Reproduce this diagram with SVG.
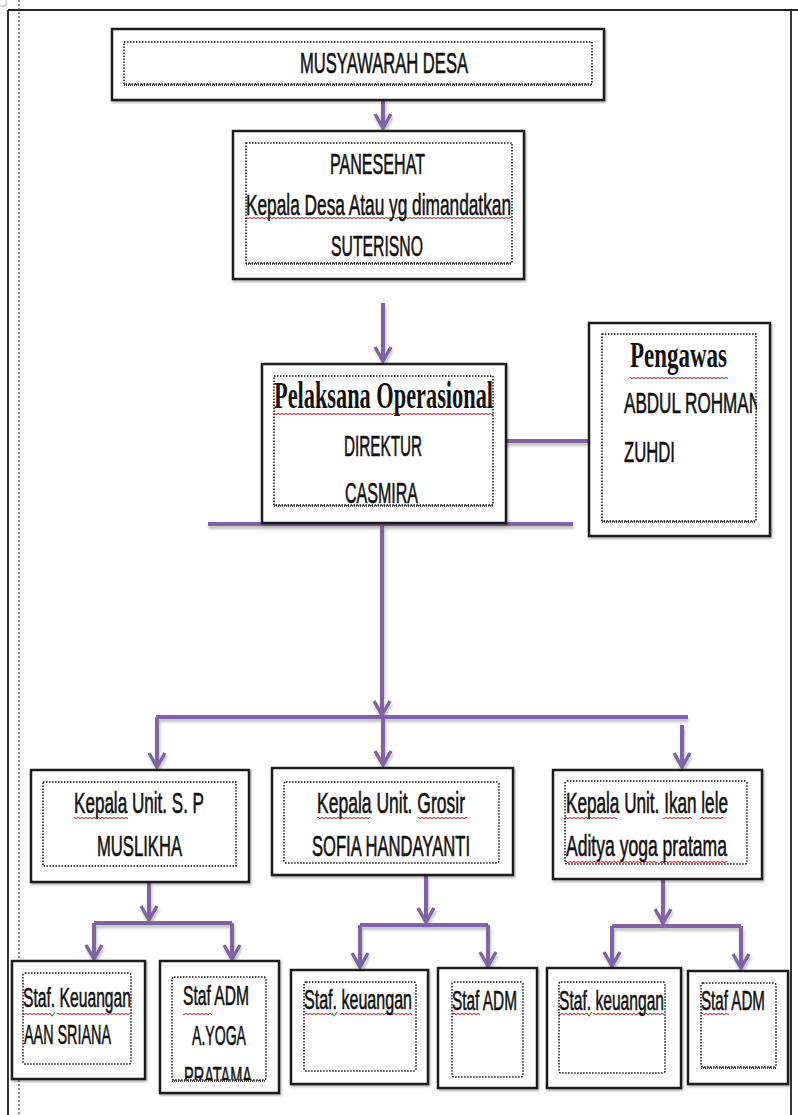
<svg xmlns="http://www.w3.org/2000/svg" width="798" height="1115" viewBox="0 0 798 1115">
<defs>
<style>
.box{fill:#fff;stroke:#1a1a1a;stroke-width:2.5}
.in{fill:none;stroke:#111;stroke-width:1.5;stroke-dasharray:1.5 1.5}
.hb{fill:none;stroke:#111;stroke-width:1.6;stroke-dasharray:1 1}
.t{font-family:"Liberation Sans",Arial,sans-serif;font-size:30px;fill:#111;stroke:#111;stroke-width:0.6}
.ts{font-size:27px}
.tb{font-family:"Liberation Serif","Times New Roman",serif;font-weight:bold;font-size:37px;fill:#111}
.c{fill:none;stroke:#8064a2;stroke-width:4}
.w{fill:url(#wavy)}
.gr{fill:none;stroke:#2e9e2e;stroke-width:1.2}
.pg{fill:none;stroke:#222;stroke-width:1.8}
</style>
<pattern id="wavy" width="4" height="4" patternUnits="userSpaceOnUse">
<path d="M0,3 L2,1 L4,3" fill="none" stroke="#e02828" stroke-width="1"/>
</pattern>
<marker id="ah" markerUnits="userSpaceOnUse" viewBox="-18 -10 20 20" refX="0" refY="0" markerWidth="20" markerHeight="20" orient="auto">
<path d="M-14,-8 L0,0 L-14,8" fill="none" stroke="#8064a2" stroke-width="3.5"/>
</marker>
<filter id="sh" x="-5%" y="-5%" width="110%" height="115%">
<feDropShadow dx="1" dy="3" stdDeviation="1.5" flood-color="#000" flood-opacity="0.25"/>
</filter>
<filter id="bs" x="-5%" y="-5%" width="110%" height="110%">
<feDropShadow dx="1" dy="1.5" stdDeviation="0.8" flood-color="#000" flood-opacity="0.35"/>
</filter>
<clipPath id="cpPr"><rect x="172" y="977" width="94" height="103"/></clipPath>
<clipPath id="cpAb"><rect x="602" y="334" width="155" height="187"/></clipPath>
</defs>
<rect width="798" height="1115" fill="#fff"/>

<g id="page">
<path class="pg" d="M8,10 H798 M8,10 V1115 M791,10 V1115"/>
<path d="M19,0 V1115" fill="none" stroke="#444" stroke-width="1.2" stroke-dasharray="2 2"/>
<path d="M0,6 H6 V0" fill="none" stroke="#aaa" stroke-width="1"/>
</g>

<g id="connectors" filter="url(#sh)">
<path class="c" d="M383,100 V128" marker-end="url(#ah)"/>
<path class="c" d="M383,303 V361" marker-end="url(#ah)"/>
<path class="c" d="M506,441 H588"/>
<path class="c" d="M208,524 H573"/>
<path class="c" d="M382,517 V715" marker-end="url(#ah)"/>
<path class="c" d="M156,717 H688"/>
<path class="c" d="M157,717 V767" marker-end="url(#ah)"/>
<path class="c" d="M383,719 V765" marker-end="url(#ah)"/>
<path class="c" d="M682,725 V767" marker-end="url(#ah)"/>
<path class="c" d="M149,882 V920" marker-end="url(#ah)"/>
<path class="c" d="M94,923 H232"/>
<path class="c" d="M94,923 V959" marker-end="url(#ah)"/>
<path class="c" d="M232,923 V959" marker-end="url(#ah)"/>
<path class="c" d="M426,875 V922" marker-end="url(#ah)"/>
<path class="c" d="M360,925 H488"/>
<path class="c" d="M360,925 V967" marker-end="url(#ah)"/>
<path class="c" d="M488,925 V966" marker-end="url(#ah)"/>
<path class="c" d="M663,880 V923" marker-end="url(#ah)"/>
<path class="c" d="M612,926 H741"/>
<path class="c" d="M612,926 V966" marker-end="url(#ah)"/>
<path class="c" d="M741,926 V968" marker-end="url(#ah)"/>
</g>

<g id="musyawarah">
<rect class="box" filter="url(#bs)" x="112" y="29" width="492" height="71"/>
<rect class="in" x="124" y="42" width="468" height="42"/>
<path class="hb" d="M124,85 H592"/>
<text class="t" transform="translate(300,73) scale(0.5455,1)" textLength="308" lengthAdjust="spacingAndGlyphs">MUSYAWARAH DESA</text>
</g>

<g id="panesehat">
<rect class="box" filter="url(#bs)" x="233" y="131" width="291" height="148"/>
<rect class="in" x="246" y="143" width="266" height="120"/>
<path class="hb" d="M246,264 H512"/>
<text class="t" transform="translate(330,174) scale(0.522,1)" textLength="182" lengthAdjust="spacingAndGlyphs">PANESEHAT</text>
<rect class="w" x="246" y="216" width="265" height="4"/>
<text class="t" transform="translate(246,215) scale(0.5736,1)" textLength="462" lengthAdjust="spacingAndGlyphs">Kepala Desa Atau yg dimandatkan</text>
<text class="t" transform="translate(331,256) scale(0.5257,1)" textLength="175" lengthAdjust="spacingAndGlyphs">SUTERISNO</text>
</g>

<g id="pelaksana">
<rect class="box" filter="url(#bs)" x="262" y="364" width="244" height="159"/>
<rect class="in" x="274" y="376" width="219" height="129"/>
<path class="hb" d="M274,506 H493"/>
<rect class="w" x="274" y="412" width="219" height="4"/>
<text class="tb" transform="translate(274,408) scale(0.6033,1)" textLength="363" lengthAdjust="spacingAndGlyphs">Pelaksana Operasional</text>
<text class="t" transform="translate(344,456) scale(0.5098,1)" textLength="153" lengthAdjust="spacingAndGlyphs">DIREKTUR</text>
<text class="t" transform="translate(345,503) scale(0.5328,1)" textLength="137" lengthAdjust="spacingAndGlyphs">CASMIRA</text>
</g>

<g id="pengawas">
<rect class="box" filter="url(#bs)" x="589" y="323" width="181" height="213"/>
<rect class="in" x="602" y="334" width="154" height="187"/>
<path class="hb" d="M602,522 H756"/>
<rect class="w" x="630" y="376" width="98" height="4"/>
<text class="tb" style="font-size:36px" transform="translate(630,367) scale(0.6382,1)" textLength="152" lengthAdjust="spacingAndGlyphs">Pengawas</text>
<g clip-path="url(#cpAb)"><text class="t" transform="translate(624,413) scale(0.5661,1)" textLength="242" lengthAdjust="spacingAndGlyphs">ABDUL ROHMAN</text></g>
<text class="t" transform="translate(624,462) scale(0.5543,1)" textLength="92" lengthAdjust="spacingAndGlyphs">ZUHDI</text>
</g>

<g id="unit-sp">
<rect class="box" filter="url(#bs)" x="31" y="770" width="218" height="112"/>
<rect class="in" x="43" y="782" width="193" height="84"/>
<rect class="w" x="74" y="816" width="54" height="4"/>
<text class="t" transform="translate(74,813) scale(0.5702,1)" textLength="228" lengthAdjust="spacingAndGlyphs">Kepala Unit. S. P</text>
<text class="t" transform="translate(97,856) scale(0.5556,1)" textLength="153" lengthAdjust="spacingAndGlyphs">MUSLIKHA</text>
</g>

<g id="unit-grosir">
<rect class="box" filter="url(#bs)" x="272" y="768" width="241" height="107"/>
<rect class="in" x="284" y="782" width="215" height="81" rx="2"/>
<rect class="w" x="317" y="816" width="53" height="4"/>
<rect class="w" x="418" y="816" width="49" height="4"/>
<text class="t" transform="translate(317,813) scale(0.585,1)" textLength="253" lengthAdjust="spacingAndGlyphs">Kepala Unit. Grosir</text>
<text class="t" transform="translate(312,856) scale(0.5411,1)" textLength="292" lengthAdjust="spacingAndGlyphs">SOFIA HANDAYANTI</text>
</g>

<g id="unit-ikan">
<rect class="box" filter="url(#bs)" x="553" y="770" width="209" height="109"/>
<rect class="in" x="565" y="781" width="182" height="83" rx="2"/>
<rect class="w" x="565" y="816" width="52" height="4"/>
<rect class="w" x="663" y="816" width="29" height="4"/>
<rect class="w" x="700" y="816" width="23" height="4"/>
<rect class="w" x="565" y="860" width="92" height="4"/>
<rect class="w" x="660" y="860" width="67" height="4"/>
<text class="t" transform="translate(566,813) scale(0.5724,1)" textLength="283" lengthAdjust="spacingAndGlyphs">Kepala Unit. Ikan lele</text>
<text class="t" transform="translate(566,856) scale(0.5855,1)" textLength="275" lengthAdjust="spacingAndGlyphs">Aditya yoga pratama</text>
</g>

<g id="staf-keuangan-sp">
<rect class="box" filter="url(#bs)" x="12" y="961" width="133" height="118"/>
<rect class="in" x="23" y="973" width="108" height="91" rx="2"/>
<rect class="w" x="23" y="1012" width="27" height="4"/>
<rect class="w" x="57" y="1012" width="74" height="4"/>
<path class="gr" d="M50,1013 l2,3 l3,-4"/>
<text class="t ts" transform="translate(23,1007) scale(0.5806,1)" textLength="186" lengthAdjust="spacingAndGlyphs">Staf. Keuangan</text>
<text class="t ts" transform="translate(24,1044) scale(0.5305,1)" textLength="164" lengthAdjust="spacingAndGlyphs">AAN SRIANA</text>
</g>

<g id="staf-adm-sp">
<rect class="box" filter="url(#bs)" x="160" y="961" width="119" height="132"/>
<rect class="in" x="172" y="977" width="94" height="103" rx="2"/>
<path class="hb" d="M172,1081 H266"/>
<rect class="w" x="183" y="1012" width="29" height="4"/>
<text class="t ts" transform="translate(183,1005) scale(0.569,1)" textLength="116" lengthAdjust="spacingAndGlyphs">Staf ADM</text>
<text class="t ts" transform="translate(192,1045) scale(0.5192,1)" textLength="104" lengthAdjust="spacingAndGlyphs">A.YOGA</text>
<g clip-path="url(#cpPr)"><text class="t ts" transform="translate(184,1086) scale(0.5191,1)" textLength="131" lengthAdjust="spacingAndGlyphs">PRATAMA</text></g>
</g>

<g id="staf-keuangan-grosir">
<rect class="box" filter="url(#bs)" x="291" y="970" width="137" height="114"/>
<rect class="in" x="304" y="982" width="112" height="89" rx="2"/>
<rect class="w" x="304" y="1012" width="28" height="4"/>
<rect class="w" x="340" y="1012" width="72" height="4"/>
<path class="gr" d="M332,1013 l2,3 l3,-4"/>
<text class="t ts" transform="translate(304,1009) scale(0.5934,1)" textLength="182" lengthAdjust="spacingAndGlyphs">Staf. keuangan</text>
</g>

<g id="staf-adm-grosir">
<rect class="box" filter="url(#bs)" x="438" y="968" width="99" height="120"/>
<rect class="in" x="452" y="982" width="71" height="95" rx="2"/>
<rect class="w" x="452" y="1012" width="28" height="4"/>
<text class="t ts" transform="translate(452,1010) scale(0.5603,1)" textLength="116" lengthAdjust="spacingAndGlyphs">Staf ADM</text>
</g>

<g id="staf-keuangan-ikan">
<rect class="box" filter="url(#bs)" x="547" y="968" width="134" height="120"/>
<rect class="in" x="559" y="982" width="106" height="91" rx="2"/>
<rect class="w" x="559" y="1012" width="28" height="4"/>
<rect class="w" x="593" y="1012" width="71" height="4"/>
<path class="gr" d="M587,1013 l2,3 l3,-4"/>
<text class="t ts" transform="translate(559,1010) scale(0.5769,1)" textLength="182" lengthAdjust="spacingAndGlyphs">Staf. keuangan</text>
</g>

<g id="staf-adm-ikan">
<rect class="box" filter="url(#bs)" x="688" y="971" width="100" height="113"/>
<rect class="in" x="701" y="983" width="75" height="84" rx="2"/>
<path class="hb" d="M701,1068 H776"/>
<rect class="w" x="701" y="1012" width="28" height="4"/>
<text class="t ts" transform="translate(701,1010) scale(0.5517,1)" textLength="116" lengthAdjust="spacingAndGlyphs">Staf ADM</text>
</g>
</svg>
